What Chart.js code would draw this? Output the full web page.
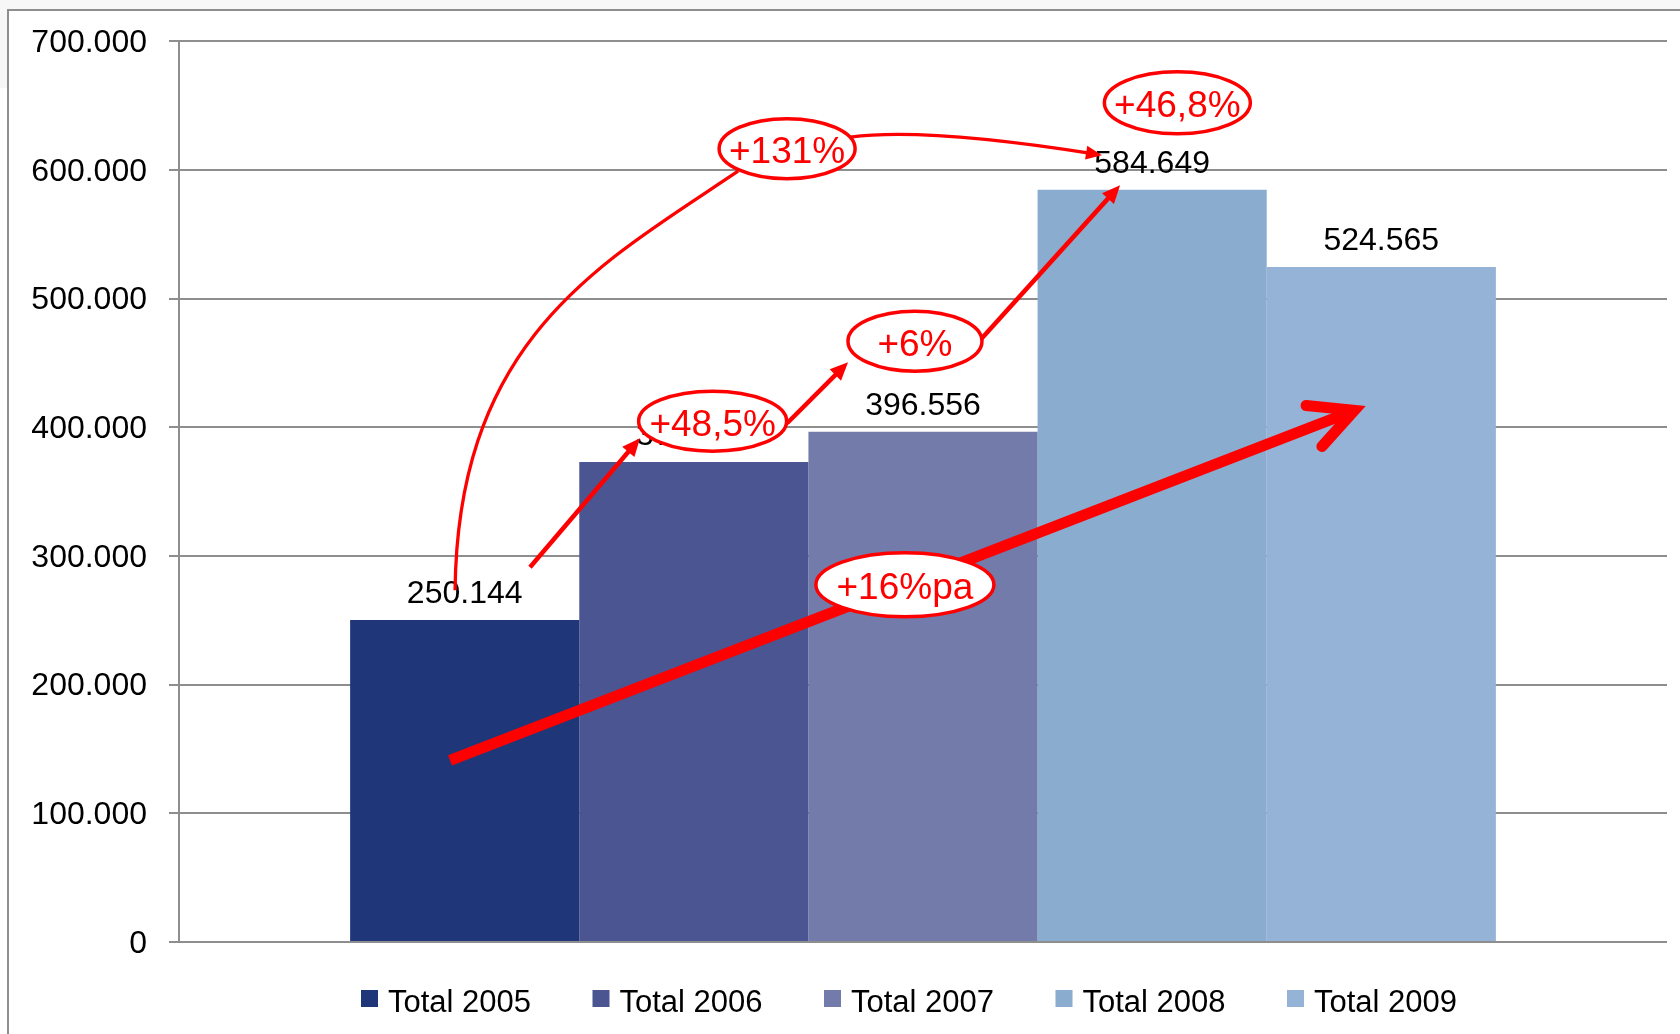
<!DOCTYPE html>
<html>
<head>
<meta charset="utf-8">
<script src="https://cdn.jsdelivr.net/npm/chart.js@4.4.1/dist/chart.umd.min.js"></script>
<style>
html,body{margin:0;padding:0;background:#fff;}
#wrap{position:relative;width:1680px;height:1034px;overflow:hidden;background:#fff;}
#topstrip{position:absolute;left:0;top:0;width:1680px;height:9px;background:#f7f7f7;}
#leftstrip{position:absolute;left:0;top:0;width:7px;height:88px;background:#f7f7f7;}
#frame{position:absolute;left:7px;top:9px;width:1700px;height:1100px;border-left:2px solid #8e8e8e;border-top:2px solid #8e8e8e;pointer-events:none;}
canvas{position:absolute;left:0;top:0;}
</style>
</head>
<body>
<div id="wrap">
  <div id="topstrip"></div>
  <div id="leftstrip"></div>
  <canvas id="c" width="1680" height="1034"></canvas>
  <div id="frame"></div>
</div>
<script>
// ---- data ----
const categories = [''];
const seriesLabels = ['Total 2005', 'Total 2006', 'Total 2007', 'Total 2008', 'Total 2009'];
const seriesValues = [250144, 373000, 396556, 584649, 524565];
const seriesColors = ['#1F3778', '#4B5591', '#737BAB', '#8AACCF', '#95B3D7'];
const yTickValues = [0, 100000, 200000, 300000, 400000, 500000, 600000, 700000];

// growth annotations, anchored in data space: [bar index (fractional), value]
const bubbleTexts = ['+131%', '+48,5%', '+6%', '+46,8%', '+16%pa'];
const bubbleAnchors = [[1.407, 616500], [1.082, 404700], [1.965, 466900], [3.110, 652200], [1.921, 277600]];
const bubbleRadii = [[68, 30], [74, 30], [67, 30], [73, 31], [89, 32]];
const trendArrow = [[-0.064, 141200], [3.907, 414800]];
const stepArrows = [
  [[0.285, 291200], [0.765, 391500]],
  [[1.407, 403100], [1.673, 450500]],
  [[2.249, 467600], [2.860, 588100]]
];
const longCurve = [[-0.042, 273300], [-0.030, 470000], [0.600, 528000], [1.193, 599000]];
const topCurve = [[1.682, 625400], [2.009, 633200], [2.781, 611400]];

const FONT = '"Liberation Sans", Arial, Helvetica, sans-serif';
const fmt = v => String(Math.round(v)).replace(/\B(?=(\d{3})+(?!\d))/g, '.');

function headTri(ctx, from, to, len, half) {
  const a = Math.atan2(to[1] - from[1], to[0] - from[0]);
  const c = Math.cos(a), s = Math.sin(a);
  ctx.beginPath();
  ctx.moveTo(to[0], to[1]);
  ctx.lineTo(to[0] - len * c + half * s, to[1] - len * s - half * c);
  ctx.lineTo(to[0] - len * c - half * s, to[1] - len * s + half * c);
  ctx.closePath();
  ctx.fill();
}

const annotPlugin = {
  id: 'annot',
  afterDatasetsDraw(chart) {
    const ctx = chart.ctx;
    const e0 = chart.getDatasetMeta(0).data[0];
    const e1 = chart.getDatasetMeta(1).data[0];
    const step = e1.x - e0.x;
    const ys = chart.scales.y;
    const P = (a) => [e0.x + a[0] * step, ys.getPixelForValue(a[1])];

    ctx.save();
    // value labels
    ctx.font = '32px ' + FONT;
    ctx.fillStyle = '#000';
    ctx.textAlign = 'center';
    ctx.textBaseline = 'alphabetic';
    chart.data.datasets.forEach((ds, i) => {
      const el = chart.getDatasetMeta(i).data[0];
      ctx.fillText(fmt(ds.data[0]), el.x, el.y - 17);
    });

    ctx.strokeStyle = '#FF0000';
    ctx.fillStyle = '#FF0000';

    // long curve 2005 -> +131%
    {
      const p = longCurve.map(P);
      ctx.beginPath();
      ctx.lineWidth = 3.3;
      ctx.lineCap = 'butt';
      ctx.moveTo(p[0][0], p[0][1]);
      ctx.bezierCurveTo(p[1][0], p[1][1], p[2][0], p[2][1], p[3][0], p[3][1]);
      ctx.stroke();
    }
    // top curve +131% -> 2008
    {
      const p = topCurve.map(P);
      const a = Math.atan2(p[2][1] - p[1][1], p[2][0] - p[1][0]);
      const end = [p[2][0] - 8 * Math.cos(a), p[2][1] - 8 * Math.sin(a)];
      ctx.beginPath();
      ctx.lineWidth = 3.3;
      ctx.moveTo(p[0][0], p[0][1]);
      ctx.quadraticCurveTo(p[1][0], p[1][1], end[0], end[1]);
      ctx.stroke();
      headTri(ctx, p[1], p[2], 16, 7);
    }
    // step arrows
    stepArrows.forEach(ar => {
      const a = P(ar[0]), b = P(ar[1]);
      const ang = Math.atan2(b[1] - a[1], b[0] - a[0]);
      ctx.beginPath();
      ctx.lineWidth = 4.5;
      ctx.lineCap = 'butt';
      ctx.moveTo(a[0], a[1]);
      ctx.lineTo(b[0] - 10 * Math.cos(ang), b[1] - 10 * Math.sin(ang));
      ctx.stroke();
      headTri(ctx, a, b, 18, 8);
    });
    // thick trend arrow
    {
      const a = P(trendArrow[0]), b = P(trendArrow[1]);
      const ang = Math.atan2(b[1] - a[1], b[0] - a[0]);
      ctx.lineWidth = 11;
      ctx.lineCap = 'butt';
      ctx.beginPath();
      ctx.moveTo(a[0], a[1]);
      ctx.lineTo(b[0] - 12 * Math.cos(ang), b[1] - 12 * Math.sin(ang));
      ctx.stroke();
      const back = ang + Math.PI, L = 54, w = 24 * Math.PI / 180;
      ctx.beginPath();
      ctx.lineCap = 'round';
      ctx.lineJoin = 'miter';
      ctx.miterLimit = 10;
      ctx.moveTo(b[0] + L * Math.cos(back + w), b[1] + L * Math.sin(back + w));
      ctx.lineTo(b[0] - 6 * Math.cos(ang), b[1] - 6 * Math.sin(ang));
      ctx.lineTo(b[0] + L * Math.cos(back - w), b[1] + L * Math.sin(back - w));
      ctx.stroke();
    }
    // bubbles
    bubbleTexts.forEach((t, i) => {
      const c = P(bubbleAnchors[i]);
      const [rx, ry] = bubbleRadii[i];
      ctx.beginPath();
      ctx.ellipse(c[0], c[1], rx, ry, 0, 0, Math.PI * 2);
      ctx.fillStyle = '#FFFFFF';
      ctx.fill();
      ctx.lineWidth = 3.5;
      ctx.strokeStyle = '#FF0000';
      ctx.stroke();
      ctx.fillStyle = '#FF0000';
      ctx.font = '37px ' + FONT;
      ctx.textAlign = 'center';
      ctx.textBaseline = 'alphabetic';
      ctx.fillText(t, c[0], c[1] + 14.5);
    });
    ctx.restore();
  },
  afterDraw(chart) {
    // legend
    const ctx = chart.ctx;
    const ca = chart.chartArea;
    ctx.save();
    ctx.font = '31px ' + FONT;
    ctx.textBaseline = 'alphabetic';
    ctx.textAlign = 'left';
    const box = 17, gapTxt = 10, itemStep = 231.5;
    let x = ca.left + 182;
    chart.data.datasets.forEach((ds) => {
      ctx.fillStyle = ds.backgroundColor;
      ctx.fillRect(x, ca.bottom + 48, box, box);
      ctx.fillStyle = '#000';
      ctx.fillText(ds.label, x + box + gapTxt, ca.bottom + 70);
      x += itemStep;
    });
    ctx.restore();
  }
};

new Chart(document.getElementById('c'), {
  type: 'bar',
  data: {
    labels: categories,
    datasets: seriesLabels.map((l, i) => ({
      label: l,
      data: [seriesValues[i]],
      backgroundColor: seriesColors[i],
      borderWidth: 0
    }))
  },
  options: {
    responsive: false,
    animation: false,
    devicePixelRatio: 1,
    layout: { padding: { left: 32, right: 13, top: 41, bottom: 92 } },
    datasets: { bar: { categoryPercentage: 0.77, barPercentage: 1.0 } },
    plugins: { legend: { display: false }, tooltip: { enabled: false } },
    scales: {
      x: { display: false },
      y: {
        min: 0, max: 700000,
        afterFit: s => { s.width = 147; },
        afterBuildTicks: s => { s.ticks = yTickValues.map(v => ({ value: v })); },
        ticks: {
          callback: v => fmt(v),
          font: { family: FONT, size: 32 },
          color: '#000',
          padding: 22,
          labelOffset: 2
        },
        grid: { color: '#8e8e8e', lineWidth: 2, tickLength: 10, drawTicks: true },
        border: { display: true, color: '#8e8e8e', width: 2 }
      }
    }
  },
  plugins: [annotPlugin]
});
</script>
</body>
</html>
